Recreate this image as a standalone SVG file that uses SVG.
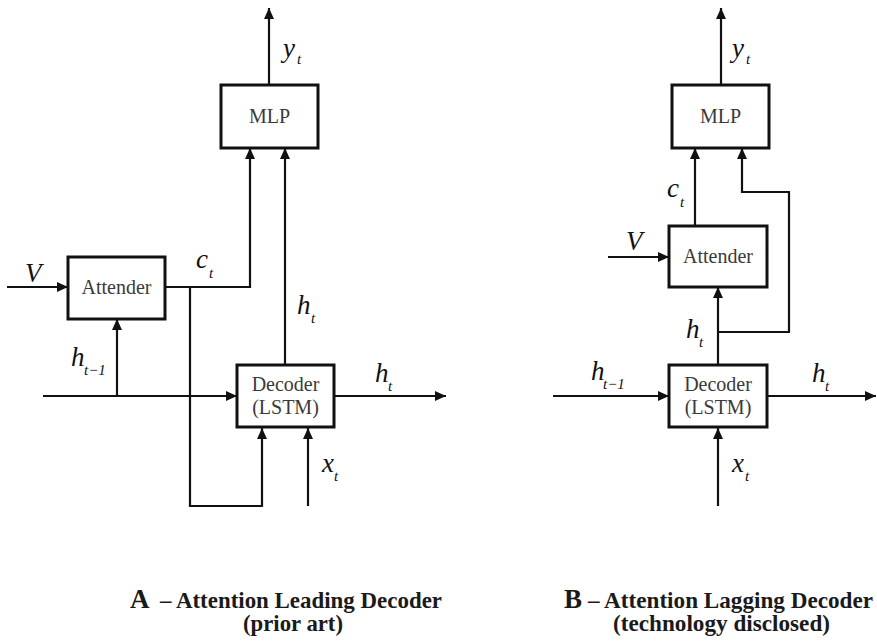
<svg xmlns="http://www.w3.org/2000/svg" width="877" height="642" viewBox="0 0 877 642">
  <defs>
    <marker id="arrow" viewBox="0 0 11 10" refX="11" refY="5" markerWidth="11" markerHeight="10" markerUnits="userSpaceOnUse" orient="auto">
      <path d="M0,0 L11,5 L0,10 Z" fill="#111"/>
    </marker>
    <style>
      .box { fill: #fff; stroke: #111; stroke-width: 3; }
      .wire { fill: none; stroke: #111; stroke-width: 2.2; }
      .arr { marker-end: url(#arrow); }
      .name { font-family: "Liberation Serif", "Times New Roman", serif; font-size: 20px; fill: #3a3a3a; text-anchor: middle; }
      .var { font-family: "Liberation Serif", "Times New Roman", serif; font-style: italic; font-size: 27px; fill: #111; }
      .sub { font-size: 15px; }
      .cap { font-family: "Liberation Serif", "Times New Roman", serif; font-weight: bold; fill: #1a1a1a; }
      .capbig { font-size: 27px; }
      .capsm { font-size: 23px; }
    </style>
  </defs>
  <rect width="877" height="642" fill="#fff"/>

  <!-- Connectors -->
  <g id="connectors">
    <!-- A: attention leading decoder -->
    <path class="wire arr" d="M269,85 V8"/>
    <path class="wire arr" d="M7,287 H68"/>
    <path class="wire arr" d="M165,287 H250 V148"/>
    <path class="wire arr" d="M190,287 V506 H262 V428"/>
    <path class="wire arr" d="M43,396 H237"/>
    <path class="wire arr" d="M117,396 V319"/>
    <path class="wire arr" d="M285,365 V148"/>
    <path class="wire arr" d="M334,396 H446"/>
    <path class="wire arr" d="M308,506 V428"/>
    <!-- B: attention lagging decoder -->
    <path class="wire arr" d="M721,85 V8"/>
    <path class="wire arr" d="M695,226 V148"/>
    <path class="wire arr" d="M608,257 H669"/>
    <path class="wire arr" d="M718,365 V287"/>
    <path class="wire arr" d="M718,332 H789 V192 H742 V148"/>
    <path class="wire arr" d="M553,396 H669"/>
    <path class="wire arr" d="M767,396 H876"/>
    <path class="wire arr" d="M718,506 V428"/>
  </g>

  <!-- A nodes -->
  <g id="a-mlp">
    <rect class="box" x="221" y="85" width="97" height="63"/>
    <text class="name" x="269.5" y="123">MLP</text>
  </g>
  <g id="a-attender">
    <rect class="box" x="68" y="257" width="97" height="62"/>
    <text class="name" x="116.5" y="294">Attender</text>
  </g>
  <g id="a-decoder">
    <rect class="box" x="237" y="365" width="97" height="62"/>
    <text class="name" x="285.5" y="391">Decoder</text>
    <text class="name" x="285.5" y="414">(LSTM)</text>
  </g>

  <!-- B nodes -->
  <g id="b-mlp">
    <rect class="box" x="672" y="85" width="97" height="63"/>
    <text class="name" x="720.5" y="123">MLP</text>
  </g>
  <g id="b-attender">
    <rect class="box" x="669" y="226" width="98" height="61"/>
    <text class="name" x="718" y="263">Attender</text>
  </g>
  <g id="b-decoder">
    <rect class="box" x="669" y="365" width="98" height="62"/>
    <text class="name" x="718" y="391">Decoder</text>
    <text class="name" x="718" y="414">(LSTM)</text>
  </g>

  <!-- Signal labels -->
  <g id="labels">
    <text class="var"><tspan x="283" y="57">y</tspan><tspan class="sub" x="297" y="64">t</tspan></text>
    <text class="var"><tspan x="196" y="268">c</tspan><tspan class="sub" x="209" y="278">t</tspan></text>
    <text class="var" x="25" y="282">V</text>
    <text class="var"><tspan x="71" y="366">h</tspan><tspan class="sub" x="84" y="375">t−1</tspan></text>
    <text class="var"><tspan x="297" y="314">h</tspan><tspan class="sub" x="311" y="323">t</tspan></text>
    <text class="var"><tspan x="375" y="382">h</tspan><tspan class="sub" x="388" y="391">t</tspan></text>
    <text class="var"><tspan x="322" y="472">x</tspan><tspan class="sub" x="334" y="481">t</tspan></text>

    <text class="var"><tspan x="732" y="57">y</tspan><tspan class="sub" x="746" y="64">t</tspan></text>
    <text class="var"><tspan x="667" y="197">c</tspan><tspan class="sub" x="680" y="207">t</tspan></text>
    <text class="var" x="626" y="250">V</text>
    <text class="var"><tspan x="686" y="338">h</tspan><tspan class="sub" x="699" y="347">t</tspan></text>
    <text class="var"><tspan x="591" y="380">h</tspan><tspan class="sub" x="603" y="389">t−1</tspan></text>
    <text class="var"><tspan x="812" y="382">h</tspan><tspan class="sub" x="825" y="391">t</tspan></text>
    <text class="var"><tspan x="732" y="472">x</tspan><tspan class="sub" x="745" y="481">t</tspan></text>
  </g>

  <!-- Captions -->
  <g id="caption-a">
    <text class="cap capbig" x="130" y="608">A</text>
    <text class="cap capsm" x="160" y="608" textLength="282" lengthAdjust="spacingAndGlyphs">– Attention Leading Decoder</text>
    <text class="cap capsm" x="243" y="631" textLength="100" lengthAdjust="spacingAndGlyphs">(prior art)</text>
  </g>
  <g id="caption-b">
    <text class="cap capbig" x="564" y="608">B</text>
    <text class="cap capsm" x="588" y="608" textLength="285" lengthAdjust="spacingAndGlyphs">– Attention Lagging Decoder</text>
    <text class="cap capsm" x="613" y="631" textLength="217" lengthAdjust="spacingAndGlyphs">(technology disclosed)</text>
  </g>
</svg>
